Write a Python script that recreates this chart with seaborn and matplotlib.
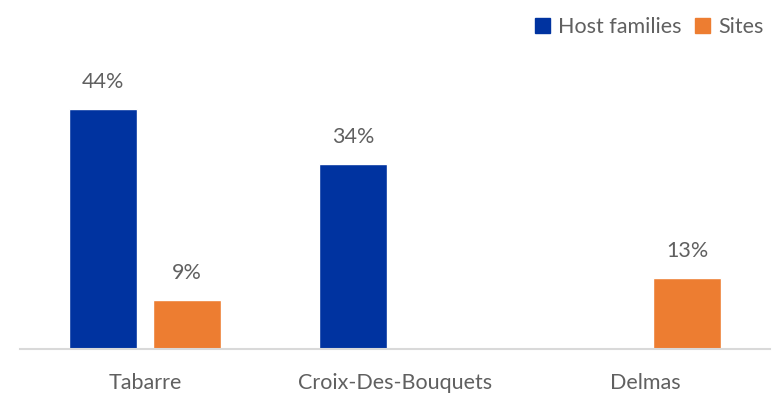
import matplotlib
matplotlib.use("Agg")
import matplotlib.pyplot as plt
import numpy as np
import pandas as pd
import seaborn as sns

categories = ["Tabarre", "Croix-Des-Bouquets", "Delmas"]
series = ["Host families", "Sites"]
host_families = [44, 34, np.nan]
sites = [9, np.nan, 13]

BLUE = "#0033A0"
ORANGE = "#ED7D31"
TEXT = "#606060"
FS = 15.5

sns.set_theme(style="white")
plt.rcParams["font.family"] = ["Lato", "DejaVu Sans"]

df = pd.DataFrame({
    "category": categories * 2,
    "series": [series[0]] * 3 + [series[1]] * 3,
    "value": host_families + sites,
})

fig = plt.figure(figsize=(7.81, 4.04), dpi=100)
ax = fig.add_axes([20 / 781, 55 / 404, 750 / 781, 272.7 / 404])

sns.barplot(data=df, x="category", y="value", hue="series", order=categories,
            hue_order=series, palette=[BLUE, ORANGE], width=0.672, gap=0.2,
            saturation=1, ax=ax, legend=False, errorbar=None)

for container in ax.containers:
    for bar in container:
        h = bar.get_height()
        if np.isnan(h) or h == 0:
            continue
        ax.annotate(f"{h:.0f}%", (bar.get_x() + bar.get_width() / 2, h),
                    xytext=(0, 12), textcoords="offset points",
                    ha="center", va="bottom", fontsize=FS, color=TEXT)

ax.set_xlim(-0.5, 2.5)
ax.set_ylim(0, 50)
ax.set_xlabel("")
ax.set_ylabel("")
ax.set_yticks([])
for side in ["left", "right", "top"]:
    ax.spines[side].set_visible(False)
ax.spines["bottom"].set_color("#D9D9D9")
ax.spines["bottom"].set_linewidth(1.5)
ax.tick_params(axis="x", length=0, pad=17, labelsize=FS, labelcolor=TEXT)

handles = [plt.Rectangle((0, 0), 1, 1, color=c) for c in [BLUE, ORANGE]]
leg = fig.legend(handles, series, loc="upper right", bbox_to_anchor=(1.003, 1.005),
                 ncol=2, frameon=False, fontsize=FS, handlelength=0.7,
                 handleheight=0.7, handletextpad=0.4, columnspacing=0.6)
for t in leg.get_texts():
    t.set_color(TEXT)

fig.savefig("out.png", dpi=100, facecolor="white")
